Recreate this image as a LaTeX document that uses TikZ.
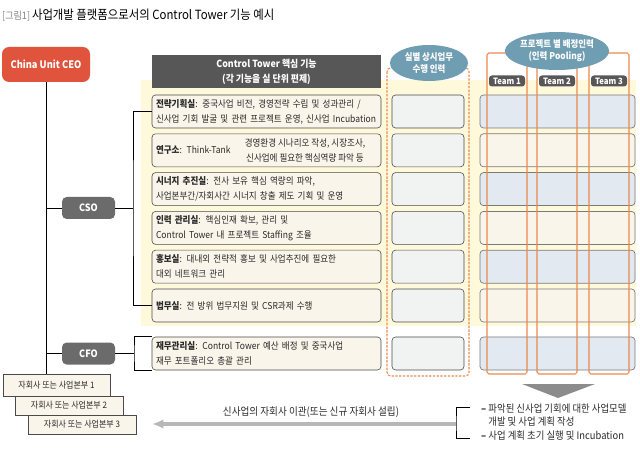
\documentclass[tikz,border=0pt]{standalone}
\usepackage{fontspec}
\setmainfont{Noto Sans CJK KR}[FakeStretch=0.9]
\usetikzlibrary{arrows.meta, positioning, shapes.geometric}
\definecolor{CeoRed}{HTML}{E0533D}
\definecolor{ChiefGray}{HTML}{6B6B6B}
\definecolor{HeadGray}{HTML}{575757}
\definecolor{PaleYellow}{HTML}{FFF9DC}
\definecolor{CreamFill}{HTML}{FAF5EA}
\definecolor{CellGray}{HTML}{F1F2F2}
\definecolor{CellBlue}{HTML}{E3E9F0}
\definecolor{BoxLine}{HTML}{4A4A4A}
\definecolor{CellLine}{HTML}{7A7A7A}
\definecolor{TeamOrange}{HTML}{E98A4E}
\definecolor{PoolBlue}{HTML}{6F9DB2}
\definecolor{ArrowGray}{HTML}{B7B7B7}
\definecolor{DownGray}{HTML}{8C8C8C}
\definecolor{TextDark}{HTML}{2A2A2A}
\tikzset{
  chiefbox/.style={fill=ChiefGray, rounded corners=4pt, text=white, font=\fontsize{8.6}{10}\selectfont\bfseries, minimum width=53*0.03cm, minimum height=22*0.03cm, inner sep=0pt},
  rolebox/.style={draw=BoxLine, line width=0.5pt, fill=CreamFill, rounded corners=3pt, text width=221*0.03cm, inner xsep=4*0.03cm, inner ysep=0pt, minimum height=33*0.03cm, align=left, text=TextDark, font=\fontsize{8.1}{13}\selectfont},
  subbox/.style={draw=BoxLine, line width=0.5pt, fill=CreamFill, inner sep=0pt, text=TextDark, font=\fontsize{7.6}{9}\selectfont},
  link/.style={line width=0.6pt, draw=black}
}
\begin{document}
\begin{tikzpicture}[x=0.03cm, y=-0.03cm,
  opscell/.style={draw=BoxLine, line width=0.5pt, fill=CellGray, rounded corners=3pt, minimum width=72*0.03cm, minimum height=33*0.03cm, inner sep=0pt},
  poolcell/.style={draw=CellLine, line width=0.6pt, rounded corners=3pt, minimum width=155*0.03cm, minimum height=33*0.03cm, inner sep=0pt},
  teamframe/.style={draw=TeamOrange, line width=0.9pt, rounded corners=1.5pt},
  teamtag/.style={fill=HeadGray, rounded corners=2.5pt, text=white, font=\fontsize{7.4}{8}\selectfont\bfseries, minimum width=36*0.03cm, minimum height=11*0.03cm, inner sep=0pt},
  bubble/.style={ellipse, fill=PoolBlue, text=white, align=center, inner sep=0pt, font=\fontsize{8}{10.5}\selectfont\bfseries},
  grayarrow/.style={-{Latex[length=3.4mm, width=2.8mm]}, line width=2.6pt, draw=ArrowGray}
]
\useasboundingbox (0,0) rectangle (640,456);

% title
\node[anchor=west, inner sep=0pt] (figtitle) at (2,15) {{\color{gray}\fontsize{8.6}{10}\selectfont[그림1]}\,{\fontsize{10.8}{12}\selectfont 사업개발 플랫폼으로서의 Control Tower 기능 예시}};

% yellow band and header
\fill[PaleYellow] (141,80) rectangle (636,326);
\node[fill=HeadGray, minimum width=229*0.03cm, minimum height=33*0.03cm, inner sep=0pt, text=white, align=center, font=\fontsize{8.4}{12.6}\selectfont\bfseries] (head) at (266.5,71.5) {Control Tower 핵심 기능\\(각 기능을 실 단위 편제)};

% organisation
\node[fill=CeoRed, rounded corners=6pt, minimum width=88*0.03cm, minimum height=35*0.03cm, inner sep=0pt, text=white, font=\fontsize{8.8}{10}\selectfont\bfseries] (ceo) at (46,64.5) {China Unit CEO};
\node[chiefbox] (cso) at (88.5,208) {CSO};
\node[chiefbox] (cfo) at (88.5,353.5) {CFO};

% functions
\node[rolebox] (role1) at (266.5,111.5) {\textbf{전략기획실}: 중국사업 비전, 경영전략 수립 및 성과관리 /\\신사업 기회 발굴 및 관련 프로젝트 운영, 신사업 Incubation};
\node[rolebox] (role2) at (266.5,150.3) {\textbf{연구소}: Think-Tank};
\node[align=center, inner sep=0pt, text=TextDark, font=\fontsize{8.1}{13}\selectfont] (thinkdesc) at (305,150.3) {경영환경 시나리오 작성, 시장조사,\\신사업에 필요한 핵심역량 파악 등};
\node[rolebox] (role3) at (266.5,189.1) {\textbf{시너지 추진실}: 전사 보유 핵심 역량의 파악,\\사업본부간/자회사간 시너지 창출 제도 기획 및 운영};
\node[rolebox] (role4) at (266.5,227.9) {\textbf{인력 관리실}: 핵심인재 확보, 관리 및\\Control Tower 내 프로젝트 Staffing 조율};
\node[rolebox] (role5) at (266.5,266.7) {\textbf{홍보실}: 대내외 전략적 홍보 및 사업추진에 필요한\\대외 네트워크 관리};
\node[rolebox] (role6) at (266.5,305.5) {\textbf{법무실}: 전 방위 법무지원 및 CSR과제 수행};
\node[rolebox] (fin) at (266.5,353.5) {\textbf{재무관리실}: Control Tower 예산 배정 및 중국사업\\재무 포트폴리오 총괄 관리};

% staff cells
\foreach \yy/\fillc [count=\i] in {111.5/CellBlue, 150.3/CreamFill, 189.1/CellBlue, 227.9/CreamFill, 266.7/CellBlue, 305.5/CreamFill, 353.5/CellBlue} {
  \node[opscell] (ops\i) at (428,\yy) {};
  \node[poolcell, fill=\fillc] (pool\i) at (557.5,\yy) {};
}
\foreach \tx in {487,537,589}
  \draw[teamframe] (\tx,53) rectangle (\tx+40,374);
\draw[TeamOrange, line width=0.9pt, dashed, dash pattern=on 2pt off 1.2pt, rounded corners=3pt] (387,68) rectangle (469,376);

\node[bubble, minimum width=78*0.03cm, minimum height=36*0.03cm] (opsbubble) at (429,63) {실별 상시업무\\수행 인력};
\node[bubble, minimum width=104*0.03cm, minimum height=38*0.03cm] (poolbubble) at (557,51) {프로젝트 별 배정인력\\(인력 Pooling)};
\foreach \tx [count=\i] in {507,557,609}
  \node[teamtag] (team\i) at (\tx,81) {Team \i};

% subsidiaries
\node[subbox, minimum width=107*0.03cm, minimum height=22*0.03cm] (sub1) at (56.5,385) {자회사 또는 사업본부 1};
\node[subbox, minimum width=108*0.03cm, minimum height=19*0.03cm] (sub2) at (69,405.5) {자회사 또는 사업본부 2};
\node[subbox, minimum width=108*0.03cm, minimum height=19*0.03cm] (sub3) at (82,424.5) {자회사 또는 사업본부 3};

% connectors
\draw[link] (ceo.south) -- (ceo.south |- sub1.north);
\draw[link] (cso.west) -- (cso.west -| ceo.south);
\draw[link] (cfo.west) -- (cfo.west -| ceo.south);
\coordinate (csojoint) at (133,208);
\draw[link] (role1.west) -| (csojoint) |- (role6.west);
\draw[link] (cso.east) -- (csojoint);
\coordinate (cfojoint) at (134,353.5);
\draw[link] (fin.north west) -| (cfojoint) |- (fin.south west);
\draw[link] (cfo.east) -- (cfojoint);

% hand-over
\fill[DownGray] (522,384) -- (595,384) -- (558,398) -- cycle;
\node[anchor=north west, align=left, inner sep=0pt, text=TextDark, font=\fontsize{8.9}{11.6}\selectfont] (tasks) at (481,403.5) {\textbf{–} 파악된 신사업 기회에 대한 사업모델\\\phantom{– }개발 및 사업 계획 작성\\\textbf{–} 사업 계획 초기 실행 및 Incubation};
\coordinate (tasktop) at (470,407);
\coordinate (taskbot) at (470,438);
\coordinate (taskjoint) at (456,424);
\draw[link] (tasktop) -| (taskjoint) |- (taskbot);
\coordinate (movetip) at (152,424);
\draw[grayarrow] (taskjoint) -- (movetip);
\node[inner sep=0pt, text=TextDark, font=\fontsize{9.1}{10}\selectfont] (movelabel) at (311,412) {신사업의 자회사 이관(또는 신규 자회사 설립)};
\end{tikzpicture}
\end{document}
